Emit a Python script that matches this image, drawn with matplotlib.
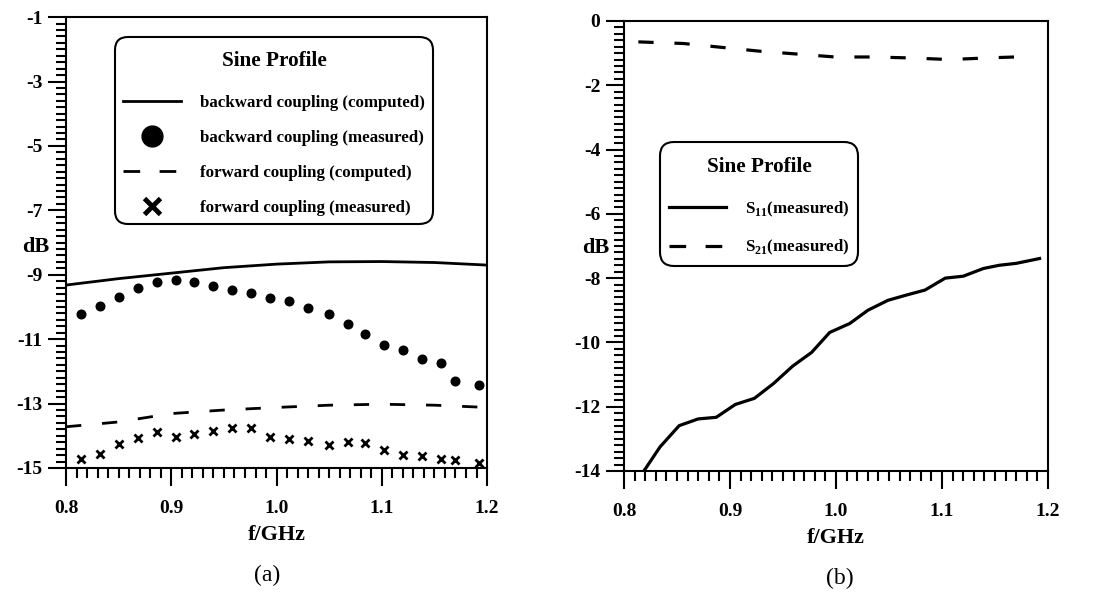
import matplotlib
matplotlib.use("Agg")
import matplotlib.pyplot as plt
from matplotlib.lines import Line2D
from matplotlib.ticker import MultipleLocator, FormatStrFormatter

plt.rcParams["font.family"] = ["Liberation Serif", "DejaVu Serif"]
plt.rcParams["font.weight"] = "bold"
plt.rcParams["axes.unicode_minus"] = False
plt.rcParams["mathtext.fontset"] = "custom"
plt.rcParams["mathtext.rm"] = "Liberation Serif:bold"
plt.rcParams["mathtext.bf"] = "Liberation Serif:bold"
plt.rcParams["lines.scale_dashes"] = False

# (a) coupling, sine profile
f_comp = [0.80, 0.85, 0.90, 0.95, 1.00, 1.05, 1.10, 1.15, 1.20]
back_comp = [-9.32, -9.12, -8.95, -8.78, -8.67, -8.60, -8.59, -8.62, -8.70]
fwd_comp = [-13.72, -13.57, -13.31, -13.20, -13.12, -13.05, -13.02, -13.05, -13.12]

f_meas = [0.814, 0.832, 0.850, 0.868, 0.886, 0.904, 0.922, 0.940, 0.958, 0.976, 0.994,
          1.012, 1.030, 1.050, 1.068, 1.084, 1.102, 1.120, 1.138, 1.156, 1.170, 1.192]
back_meas = [-10.23, -9.97, -9.69, -9.40, -9.21, -9.17, -9.22, -9.35, -9.48, -9.56, -9.71,
             -9.81, -10.02, -10.23, -10.54, -10.84, -11.19, -11.34, -11.62, -11.73, -12.30, -12.43]
fwd_meas = [-14.73, -14.55, -14.24, -14.08, -13.88, -14.05, -13.95, -13.86, -13.77, -13.77, -14.05,
            -14.11, -14.16, -14.30, -14.19, -14.23, -14.43, -14.60, -14.62, -14.71, -14.76, -14.86]

# (b) S-parameters, sine profile
s11_f = [0.8157, 0.834, 0.852, 0.870, 0.887, 0.905, 0.923, 0.941, 0.959, 0.977, 0.994,
         1.013, 1.030, 1.049, 1.066, 1.084, 1.103, 1.120, 1.139, 1.154, 1.170, 1.192]
s11 = [-14.15, -13.25, -12.59, -12.38, -12.33, -11.93, -11.74, -11.28, -10.74, -10.31, -9.69,
       -9.41, -9.00, -8.69, -8.53, -8.37, -8.00, -7.94, -7.70, -7.60, -7.54, -7.39]
s21_f = [0.8135, 0.856, 0.892, 0.928, 0.964, 0.999, 1.035, 1.071, 1.107, 1.142, 1.186]
s21 = [-0.65, -0.70, -0.82, -0.94, -1.03, -1.12, -1.12, -1.15, -1.20, -1.15, -1.10]

yticks_a = [-15, -13, -11, -9, -7, -5, -3, -1]
yticks_b = [-14, -12, -10, -8, -6, -4, -2, 0]

DASH = (11, 15)
LEG_FS = 12.2

fig = plt.figure(figsize=(11.08, 5.98), dpi=100)
ax1 = fig.add_axes([0.0596, 0.2174, 0.380, 0.754])
ax2 = fig.add_axes([0.5632, 0.2124, 0.3827, 0.7525])


def style_axis(ax, ylim, yticks):
    ax.set_xlim(0.8, 1.2)
    ax.set_ylim(*ylim)
    ax.xaxis.set_major_locator(MultipleLocator(0.1))
    ax.xaxis.set_minor_locator(MultipleLocator(0.01))
    ax.xaxis.set_major_formatter(FormatStrFormatter("%.1f"))
    ax.set_yticks(yticks)
    ax.yaxis.set_minor_locator(MultipleLocator(0.2))
    ax.yaxis.set_major_formatter(FormatStrFormatter("%d"))
    ax.tick_params(which="both", direction="out", top=False, right=False, width=1.5)
    ax.tick_params(which="major", length=13, labelsize=14)
    ax.tick_params(which="minor", length=7)
    ax.tick_params(axis="x", which="major", pad=10)
    ax.tick_params(axis="y", which="major", pad=4)
    for s in ax.spines.values():
        s.set_linewidth(1.5)
    ax.set_xlabel("f/GHz", fontsize=16, fontweight="bold", labelpad=6)
    ax.set_ylabel("dB", fontsize=16, fontweight="bold", rotation=0, va="center", ha="center")


def make_legend(ax, handles, labels, anchor):
    leg = ax.legend(handles, labels, loc="upper left", bbox_to_anchor=anchor, borderaxespad=0,
                    title="Sine Profile", fontsize=LEG_FS, handlelength=3.4, handletextpad=1.1,
                    labelspacing=1.13, borderpad=0.5, fancybox=True, framealpha=1,
                    edgecolor="k", title_fontproperties={"size": 15.3, "weight": "bold"})
    leg.get_frame().set_linewidth(1.5)
    leg.get_frame().set_boxstyle("round,pad=0,rounding_size=0.8")
    # gap between the title and the entries, title nudged down a little
    leg._legend_box.sep = 21
    leg.get_title().set_y(-6)
    return leg


style_axis(ax1, (-15, -1), yticks_a)
ax1.yaxis.set_label_coords(-0.072, 0.49)
ax1.plot(f_comp, back_comp, color="k", lw=2)
ax1.plot(f_meas, back_meas, ls="none", marker="o", ms=6.2, color="k")
ax1.plot(f_comp, fwd_comp, color="k", lw=2, dashes=DASH)
ax1.plot(f_meas, fwd_meas, ls="none", marker="x", ms=5.5, mew=2, color="k")

h1 = [Line2D([], [], color="k", lw=2),
      Line2D([], [], ls="none", marker="o", ms=15, color="k"),
      Line2D([], [], color="k", lw=2, dashes=(12, 14)),
      Line2D([], [], ls="none", marker="x", ms=12, mew=3.5, color="k")]
l1 = ["backward coupling (computed)", "backward coupling (measured)",
      "forward coupling (computed)", "forward coupling (measured)"]
make_legend(ax1, h1, l1, (0.116, 0.956))

style_axis(ax2, (-14, 0), yticks_b)
ax2.yaxis.set_label_coords(-0.066, 0.495)
ax2.plot(s11_f, s11, color="k", lw=2.3)
ax2.plot(s21_f, s21, color="k", lw=2.3, dashes=DASH)

h2 = [Line2D([], [], color="k", lw=2.3), Line2D([], [], color="k", lw=2.3, dashes=(12, 14))]
l2 = [r"S$_{\mathbf{11}}$(measured)", r"S$_{\mathbf{21}}$(measured)"]
make_legend(ax2, h2, l2, (0.085, 0.731))

fig.text(267 / 1108, 1 - 575 / 598, "(a)", fontsize=17, fontweight="normal", ha="center", va="center")
fig.text(840 / 1108, 1 - 578 / 598, "(b)", fontsize=17, fontweight="normal", ha="center", va="center")

fig.savefig("out.png", dpi=100)
